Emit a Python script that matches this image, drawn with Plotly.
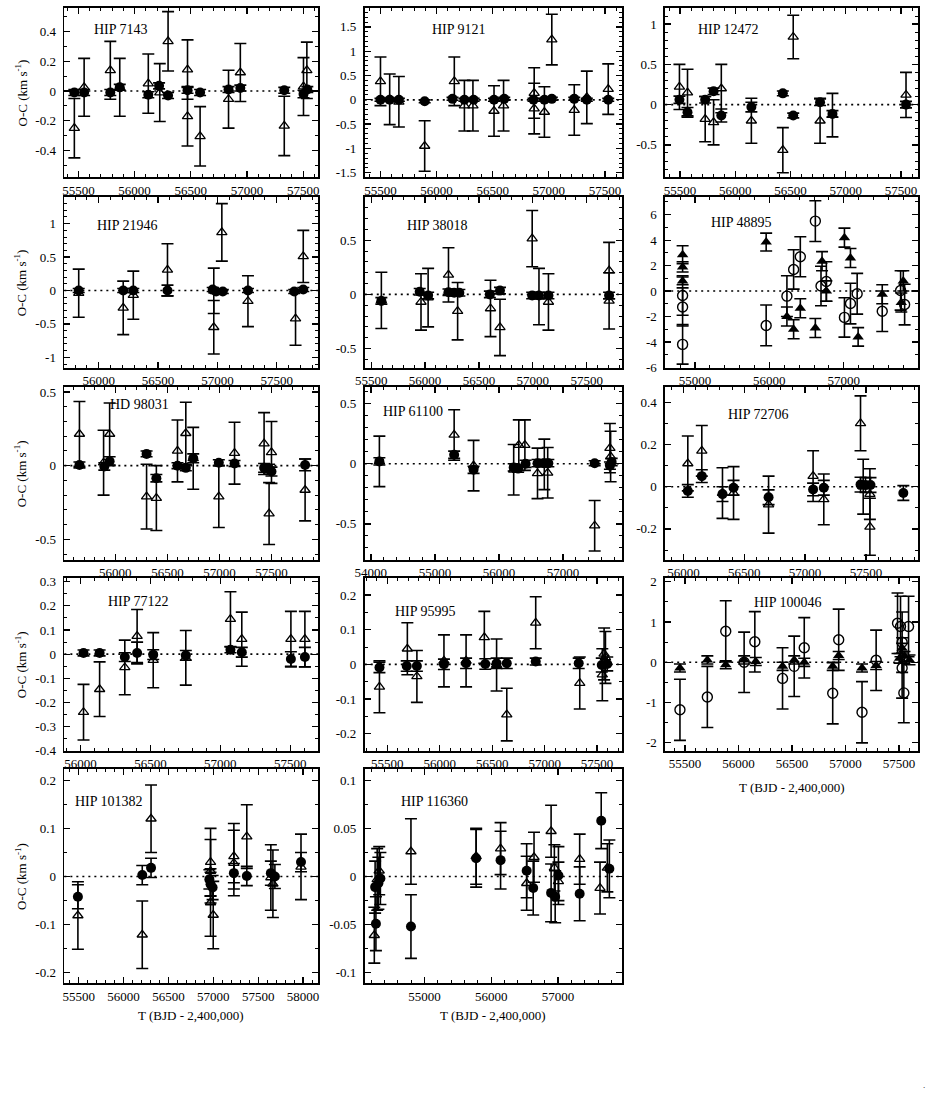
import numpy as np
import plotly.graph_objects as go

# ---------------- data: (T, O-C, error) ----------------
hip7143_tri = [(55464,-0.25,0.20),(55551,0.025,0.195),(55784,0.14,0.195),(55868,0.025,0.195),(56122,0.05,0.20),
               (56224,-0.01,0.195),(56298,0.335,0.20),(56471,0.145,0.20),(56471,-0.17,0.20),(56583,-0.305,0.20),
               (56836,-0.055,0.195),(56941,0.125,0.195),(57332,-0.235,0.20),(57503,0.03,0.195),(57533,0.14,0.19)]
hip7143_cir = [(55464,-0.01,0.02),(55551,-0.01,0.02),(55784,-0.01,0.02),(55868,0.025,0.02),(56122,-0.025,0.02),
               (56218,0.035,0.02),(56298,-0.03,0.02),(56471,0.005,0.02),(56583,-0.01,0.02),(56836,0.01,0.02),
               (56941,0.02,0.02),(57332,0.005,0.02),(57503,-0.02,0.025),(57537,0.01,0.02)]

hip9121_tri = [(55500,0.38,0.50),(55582,0.01,0.52),(55664,-0.04,0.52),(55894,-0.95,0.52),(56158,0.38,0.50),
               (56248,-0.12,0.52),(56324,-0.12,0.52),(56512,-0.23,0.52),(56597,-0.12,0.52),(56870,0.14,0.52),
               (56870,-0.18,0.52),(56961,-0.25,0.52),(57027,1.24,0.52),(57227,-0.21,0.52),(57339,0.05,0.54),
               (57530,0.22,0.52)]
hip9121_cir = [(55500,0,0.03),(55582,0,0.03),(55664,0,0.03),(55894,-0.03,0.03),(56142,0.02,0.03),(56248,0,0.03),
               (56330,0,0.03),(56512,0,0.03),(56603,0.02,0.03),(56864,0,0.03),(56961,0,0.03),(57027,0.02,0.03),
               (57227,0.02,0.03),(57339,0,0.03),(57530,0,0.03)]

hip12472_tri = [(55494,0.22,0.28),(55567,0.15,0.29),(55727,-0.18,0.28),(55803,-0.22,0.28),(55873,0.2,0.30),
                (56145,-0.20,0.28),(56430,-0.565,0.28),(56524,0.84,0.27),(56767,-0.2,0.28),(56879,-0.13,0.27),
                (57545,0.12,0.28)]
hip12472_cir = [(55494,0.06,0.045),(55567,-0.095,0.06),(55727,0.06,0.04),(55803,0.165,0.04),(55873,-0.135,0.08),
                (56145,-0.03,0.06),(56430,0.14,0.03),(56524,-0.135,0.03),(56767,0.03,0.04),(56879,-0.115,0.04),
                (57545,0.0,0.04)]

hip21946_tri = [(55831,-0.04,0.36),(56206,-0.26,0.40),(56291,-0.07,0.36),(56579,0.31,0.39),(56969,-0.55,0.40),
                (56969,-0.005,0.34),(57037,0.87,0.43),(57257,-0.16,0.38),(57658,-0.42,0.40),(57723,0.51,0.39)]
hip21946_cir = [(55831,0,0.03),(56206,0,0.03),(56291,0,0.03),(56579,0,0.08),(56960,0.015,0.03),(56989,-0.015,0.03),
                (57045,-0.015,0.03),(57257,0,0.03),(57647,-0.015,0.03),(57723,0.015,0.03)]

hip38018_tri = [(55594,-0.055,0.26),(55962,-0.07,0.26),(56028,-0.03,0.27),(56217,0.18,0.25),(56302,-0.155,0.265),
                (56607,-0.13,0.26),(56695,-0.305,0.26),(56994,0.515,0.26),(57057,-0.02,0.26),(57145,-0.07,0.26),
                (57708,0.22,0.26),(57708,-0.06,0.26)]
hip38018_cir = [(55594,-0.06,0.03),(55950,0.025,0.03),(56028,-0.01,0.03),(56217,0.02,0.03),(56270,0.015,0.03),
                (56318,0.015,0.03),(56601,0.0,0.03),(56695,0.035,0.03),(56994,-0.01,0.03),(57057,-0.01,0.03),
                (57145,-0.01,0.03),(57708,-0.01,0.03)]

hip48895_tri = [(54834,2.86,0.7),(54834,1.9,0.4),(54834,0.8,0.3),(55957,3.85,0.7),(56236,-2.0,0.75),(56326,-3.0,0.75),
                (56416,-1.35,0.75),(56618,-2.9,0.75),(56708,2.35,0.75),(56766,0.0,0.8),(57009,4.2,0.75),
                (57090,2.6,0.75),(57193,-3.6,0.73),(57517,-0.25,0.75),(57800,0.8,0.8),(57773,-0.9,0.75)]
hip48895_cir = [(54834,-0.35,1.55),(54834,-1.25,1.5),(54834,-4.19,1.55),(55957,-2.7,1.6),(56236,-0.4,1.6),
                (56326,1.7,1.55),(56416,2.7,1.57),(56618,5.5,1.6),(56694,0.4,1.55),(56766,0.75,1.55),
                (57009,-2.07,1.55),(57090,-0.98,1.6),(57180,-0.21,1.6),(57517,-1.59,1.59),(57764,0.05,1.55),
                (57818,-1.06,1.6)]

hd98031_tri = [(55655,0.215,0.22),(55887,0.02,0.22),(55945,0.215,0.21),(56300,-0.21,0.22),(56394,-0.22,0.22),
               (56597,0.10,0.21),(56677,0.22,0.21),(56748,0.05,0.21),(56994,-0.21,0.21),(57145,0.085,0.21),
               (57429,0.15,0.21),(57477,-0.325,0.21),(57500,0.09,0.21),(57823,-0.165,0.21)]
hd98031_cir = [(55655,0.005,0.02),(55894,-0.005,0.025),(55945,0.03,0.03),(56300,0.08,0.02),(56394,-0.085,0.025),
               (56597,0.0,0.02),(56677,-0.015,0.02),(56748,0.05,0.03),(56994,0.02,0.02),(57145,0.015,0.02),
               (57429,-0.015,0.03),(57477,-0.02,0.03),(57500,-0.04,0.03),(57823,0.005,0.04)]

hip61100_tri = [(54133,0.02,0.21),(55300,0.24,0.21),(55603,-0.015,0.21),(56229,-0.05,0.21),(56309,0.155,0.21),
                (56404,0.155,0.21),(56601,-0.08,0.21),(56707,-0.005,0.21),(56760,-0.075,0.21),(57493,-0.515,0.21),
                (57731,0.13,0.205),(57742,0.06,0.21)]
hip61100_cir = [(54133,0.02,0.03),(55300,0.075,0.03),(55603,-0.05,0.03),(56229,-0.03,0.03),(56298,-0.04,0.03),
                (56415,0.0,0.03),(56601,0.005,0.03),(56707,0.005,0.03),(56770,0.005,0.03),(57493,0.005,0.02),
                (57731,-0.015,0.03),(57758,0.015,0.03)]

hip72706_tri = [(56036,0.11,0.13),(56151,0.17,0.12),(56321,-0.03,0.12),(56412,-0.03,0.125),(56700,-0.085,0.135),
                (57066,0.05,0.12),(57154,-0.06,0.12),(57456,0.30,0.13),(57478,0.0,0.13),(57533,-0.035,0.12),
                (57533,-0.19,0.135)]
hip72706_cir = [(56036,-0.02,0.03),(56151,0.05,0.03),(56321,-0.035,0.035),(56412,-0.005,0.035),(56700,-0.05,0.035),
                (57066,-0.013,0.03),(57154,-0.005,0.035),(57456,0.01,0.035),(57497,0.008,0.035),
                (57538,0.008,0.035),(57808,-0.03,0.035)]

hip77122_tri = [(56022,-0.24,0.115),(56137,-0.145,0.113),(56317,-0.055,0.113),(56405,0.075,0.11),(56520,-0.025,0.114),
                (56753,-0.015,0.113),(57072,0.145,0.113),(57153,0.062,0.112),(57504,0.062,0.115),(57604,0.062,0.115)]
hip77122_cir = [(56022,0.005,0.012),(56137,0.005,0.012),(56317,-0.012,0.018),(56405,0.005,0.045),(56520,-0.002,0.02),
                (56753,-0.005,0.02),(57072,0.018,0.012),(57153,0.008,0.02),(57504,-0.02,0.03),(57604,-0.012,0.04)]

hip95995_tri = [(55425,-0.065,0.075),(55691,0.045,0.075),(55782,-0.035,0.075),(56040,0.01,0.075),(56251,0.01,0.075),
                (56425,0.078,0.075),(56542,-0.002,0.075),(56639,-0.145,0.076),(56915,0.12,0.075),(57335,-0.054,0.075),
                (57550,-0.03,0.075),(57567,0.03,0.075),(57580,0.02,0.075)]
hip95995_cir = [(55425,-0.009,0.015),(55685,-0.005,0.015),(55782,-0.005,0.015),(56040,0.0,0.015),(56251,0.003,0.015),
                (56434,0.001,0.015),(56542,0.003,0.015),(56639,0.003,0.015),(56915,0.008,0.01),(57325,0.003,0.015),
                (57545,-0.002,0.02),(57597,0.001,0.02)]

hip100046_tri = [(55453,-0.14,0.1),(55709,0.06,0.1),(55881,-0.06,0.1),(56053,0.06,0.1),(56162,0.02,0.1),
                 (56412,-0.1,0.1),(56521,0.06,0.1),(56615,0.0,0.1),(56881,-0.1,0.1),(56937,0.17,0.1),
                 (57155,-0.14,0.1),(57287,-0.08,0.1),(57506,0.1,0.12),(57530,0.35,0.12),(57552,0.15,0.12),
                 (57599,0.06,0.12)]
hip100046_cir = [(55453,-1.18,0.76),(55709,-0.86,0.76),(55881,0.77,0.76),(56053,0.0,0.75),(56153,0.51,0.75),
                 (56412,-0.4,0.76),(56521,-0.1,0.75),(56615,0.36,0.75),(56881,-0.77,0.76),(56937,0.56,0.76),
                 (57155,-1.24,0.76),(57287,0.05,0.75),(57487,0.97,0.75),(57515,0.89,0.75),(57530,0.5,0.75),
                 (57530,-0.14,0.75),(57546,-0.76,0.74),(57590,0.89,0.75)]

hip101382_tri = [(55491,-0.081,0.07),(56208,-0.121,0.07),(56306,0.12,0.07),(56969,0.03,0.07),(56969,0.011,0.066),
                 (56969,-0.054,0.07),(56999,-0.08,0.07),(57229,0.042,0.068),(57229,0.028,0.068),(57373,0.083,0.066),
                 (57641,-0.002,0.068),(57664,-0.015,0.07),(57977,0.02,0.068)]
hip101382_cir = [(55491,-0.042,0.025),(56208,0.003,0.02),(56306,0.018,0.02),(56956,-0.006,0.02),(56969,-0.016,0.025),
                 (56992,-0.023,0.025),(57229,0.007,0.02),(57373,0.001,0.02),(57641,0.007,0.025),(57686,0.0,0.025),
                 (57977,0.03,0.02)]

hip116360_tri = [(54248,-0.061,0.029),(54291,-0.003,0.032),(54321,0.006,0.025),(54797,0.026,0.034),(55774,0.021,0.029),
                 (56140,0.029,0.027),(56531,-0.007,0.028),(56641,0.02,0.026),(56897,0.047,0.027),(56946,0.009,0.024),
                 (57007,-0.005,0.02),(57325,0.018,0.026),(57630,-0.012,0.027),(57740,0.009,0.025)]
hip116360_cir = [(54260,-0.011,0.027),(54272,-0.049,0.028),(54309,-0.007,0.027),(54339,-0.002,0.027),
                 (54797,-0.052,0.033),(55774,0.019,0.03),(56140,0.017,0.03),(56531,0.006,0.028),(56629,-0.012,0.028),
                 (56897,-0.017,0.03),(56958,-0.021,0.027),(57007,0.001,0.03),(57325,-0.018,0.028),
                 (57648,0.058,0.029),(57770,0.008,0.03)]

# ---------------- panel layout (pixels in the figure) ----------------
W, H = 934, 1117
COLS = [(55, 312), (359, 619), (663, 919)]
ROWS = [(4, 175), (195, 368), (387, 562), (580, 755), (773, 990)]

# name, row, col, xrange, xdtick, yrange, ydtick, label pos (fx, fy), tri, cir, swapped style
panels = [
    ("HIP 7143", 0, 0, (55375, 57635), 500, (-0.58, 0.56), 0.2, (0.107, 0.871), hip7143_tri, hip7143_cir, False),
    ("HIP 9121", 0, 1, (55360, 57650), 500, (-1.59, 1.89), 0.5, (0.254, 0.871), hip9121_tri, hip9121_cir, False),
    ("HIP 12472", 0, 2, (55365, 57655), 500, (-0.90, 1.20), 0.5, (0.123, 0.871), hip12472_tri, hip12472_cir, False),
    ("HIP 21946", 1, 0, (55710, 57850), 500, (-1.16, 1.40), 0.5, (0.119, 0.83), hip21946_tri, hip21946_cir, False),
    ("HIP 38018", 1, 1, (55440, 57825), 500, (-0.68, 0.90), 0.5, (0.155, 0.83), hip38018_tri, hip38018_cir, False),
    ("HIP 48895", 1, 2, (54600, 58000), 1000, (-6.05, 7.4), 2, (0.175, 0.85), hip48895_tri, hip48895_cir, True),
    ("HD 98031", 2, 0, (55510, 57950), 500, (-0.64, 0.535), 0.5, (0.17, 0.90), hd98031_tri, hd98031_cir, False),
    ("HIP 61100", 2, 1, (53905, 57915), 1000, (-0.80, 0.64), 0.5, (0.063, 0.858), hip61100_tri, hip61100_cir, False),
    ("HIP 72706", 2, 2, (55850, 57930), 500, (-0.347, 0.473), 0.2, (0.242, 0.84), hip72706_tri, hip72706_cir, False),
    ("HIP 77122", 3, 0, (55885, 57700), 500, (-0.40, 0.316), 0.1, (0.163, 0.865), hip77122_tri, hip77122_cir, False),
    ("HIP 95995", 3, 1, (55285, 57735), 500, (-0.25, 0.25), 0.1, (0.111, 0.807), hip95995_tri, hip95995_cir, False),
    ("HIP 100046", 3, 2, (55315, 57680), 500, (-2.2, 2.1), 1, (0.345, 0.86), hip100046_tri, hip100046_cir, True),
    ("HIP 101382", 4, 0, (55340, 58170), 500, (-0.222, 0.224), 0.1, (0.036, 0.845), hip101382_tri, hip101382_cir, False),
    ("HIP 116360", 4, 1, (54105, 57955), 1000, (-0.111, 0.112), 0.05, (0.135, 0.845), hip116360_tri, hip116360_cir, False),
]

FONT = "Liberation Serif"


def fmt(v):
    s = f"{v:.3f}".rstrip("0").rstrip(".")
    if s in ("-0", "", "-"):
        s = "0"
    return s


fig = go.Figure()
shapes, annotations = [], []
layout = {}


def ebar(arr):
    return dict(type="data", array=arr, visible=True, color="black", thickness=1.6, width=6)


for i, (name, r, c, xr, xdt, yr, ydt, lp, tri, cir, swapped) in enumerate(panels):
    n = i + 1
    sfx = "" if n == 1 else str(n)
    xa, ya = "x" + sfx, "y" + sfx
    tx, ty, te = zip(*tri)
    cx, cy, ce = zip(*cir)
    if not swapped:
        tri_marker = dict(symbol="triangle-up-open", size=9, color="black", line=dict(width=1.3, color="black"))
        cir_marker = dict(symbol="circle", size=10, color="black", line=dict(width=0))
        order = [(tx, ty, te, tri_marker), (cx, cy, ce, cir_marker)]
    else:
        tri_marker = dict(symbol="triangle-up", size=10, color="black", line=dict(width=0))
        cir_marker = dict(symbol="circle-open", size=10, color="black", line=dict(width=1.4, color="black"))
        order = [(cx, cy, ce, cir_marker), (tx, ty, te, tri_marker)]
    for X, Y, E, mk in order:
        fig.add_trace(go.Scatter(x=list(X), y=list(Y), mode="markers", marker=mk,
                                 error_y=ebar(list(E)), xaxis=xa, yaxis=ya, showlegend=False,
                                 hoverinfo="skip", cliponaxis=True))

    x0, x1 = COLS[c]
    t0, t1 = ROWS[r]
    xt = np.arange(np.ceil(xr[0] / xdt) * xdt, xr[1] + 1e-9, xdt)
    yt = np.arange(np.ceil(yr[0] / ydt - 1e-9) * ydt, yr[1] + 1e-9, ydt)
    yminor = ydt / 5 if abs(ydt - 0.5) < 1e-9 else ydt / 2
    common = dict(showline=True, linewidth=1.8, linecolor="black", mirror="allticks",
                  ticks="inside", ticklen=6, tickwidth=1.3, tickcolor="black",
                  showgrid=False, zeroline=False,
                  tickfont=dict(family=FONT, size=13, color="black"))
    layout["xaxis" + sfx] = dict(common, domain=[x0 / W, x1 / W], range=list(xr), anchor=ya,
                                 tickmode="array", tickvals=list(xt), ticktext=[str(int(round(v))) for v in xt],
                                 ticklabelstandoff=0,
                                 minor=dict(ticks="inside", ticklen=3, tickcolor="black", tickwidth=1,
                                            tickmode="linear", tick0=0, dtick=xdt / 5, showgrid=False))
    layout["yaxis" + sfx] = dict(common, domain=[1 - t1 / H, 1 - t0 / H], range=list(yr), anchor=xa,
                                 tickmode="array", tickvals=list(yt), ticktext=[fmt(v) for v in yt],
                                 ticklabelstandoff=4,
                                 minor=dict(ticks="inside", ticklen=3, tickcolor="black", tickwidth=1,
                                            tickmode="linear", tick0=0, dtick=yminor, showgrid=False))
    shapes.append(dict(type="line", xref=xa + " domain", yref=ya, x0=0, x1=1, y0=0, y1=0,
                       line=dict(color="black", width=1.6, dash="2px,4px"), layer="below"))
    annotations.append(dict(text=name, xref=xa + " domain", yref=ya + " domain", x=lp[0], y=lp[1],
                            xanchor="left", yanchor="middle", showarrow=False,
                            font=dict(family=FONT, size=14, color="black")))

# y-axis titles (left column)
for r in range(5):
    t0, t1 = ROWS[r]
    annotations.append(dict(text="O-C (km s<sup>-1</sup>)", xref="paper", yref="paper", x=11 / W,
                            y=1 - (t0 + t1) / 2 / H, textangle=-90, showarrow=False,
                            xanchor="center", yanchor="middle", font=dict(family=FONT, size=13, color="black")))

# x-axis titles
for c, ypx in [(0, 1022), (1, 1022), (2, 792)]:
    x0, x1 = COLS[c]
    annotations.append(dict(text="T (BJD - 2,400,000)", xref="paper", yref="paper", x=(x0 + x1) / 2 / W,
                            y=1 - ypx / H, showarrow=False, xanchor="center", yanchor="middle",
                            font=dict(family=FONT, size=13, color="black")))

annotations.append(dict(text=".", xref="paper", yref="paper", x=928 / W, y=1 - 1100 / H, showarrow=False,
                        font=dict(family=FONT, size=9, color="black")))

fig.update_layout(width=W, height=H, margin=dict(l=0, r=0, t=0, b=0), autosize=False,
                  paper_bgcolor="white", plot_bgcolor="white", shapes=shapes, annotations=annotations,
                  showlegend=False, **layout)

fig.write_html("out.html", config={"displayModeBar": False, "staticPlot": True},
               post_script="document.body.style.margin='0';document.body.style.overflow='hidden';")
